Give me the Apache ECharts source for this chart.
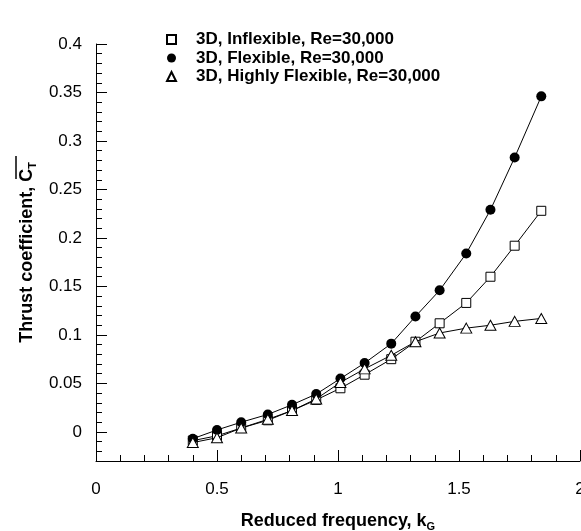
<!DOCTYPE html>
<html>
<head>
<meta charset="utf-8">
<script src="https://cdn.jsdelivr.net/npm/echarts@6/dist/echarts.min.js"></script>
<style>
  html, body { margin: 0; padding: 0; background: #fff; }
  #chart { width: 581px; height: 531px; }
</style>
</head>
<body>
<div id="chart"></div>
<script>
// reduced frequency k_G (same for the three cases)
var kG = [0.40, 0.50, 0.60, 0.71, 0.81, 0.91, 1.01, 1.11, 1.22, 1.32, 1.42, 1.53, 1.63, 1.73, 1.84];

// thrust coefficient
var ctInflexible = [-0.009, -0.004, 0.004, 0.012, 0.022, 0.033, 0.045, 0.059, 0.075, 0.093, 0.112, 0.133, 0.160, 0.192, 0.228];
var ctFlexible = [-0.007, 0.002, 0.010, 0.018, 0.028, 0.039, 0.055, 0.071, 0.091, 0.119, 0.146, 0.184, 0.229, 0.283, 0.346];
var ctHighlyFlexible = [-0.011, -0.006, 0.004, 0.013, 0.022, 0.034, 0.051, 0.065, 0.079, 0.093, 0.102, 0.107, 0.110, 0.114, 0.117];

var seriesNames = ['3D, Inflexible, Re=30,000', '3D, Flexible, Re=30,000', '3D, Highly Flexible, Re=30,000'];

var yMajorTicks = [0, 0.05, 0.1, 0.15, 0.2, 0.25, 0.3, 0.35, 0.4];
var yMin = -0.03, yMax = 0.4;
var yMinorTicks = [];
for (var t = -3; t <= 40; t++) {
    yMinorTicks.push(t / 100);
}

var FONT = 'Liberation Sans, Arial, Helvetica, sans-serif';

function pairs(ys) {
    return kG.map(function (x, i) { return [x, ys[i]]; });
}

var chart = echarts.init(document.getElementById('chart'), null, { renderer: 'canvas' });

var lineCommon = {
    type: 'line',
    showSymbol: true,
    lineStyle: { color: '#000', width: 1 },
    emphasis: { disabled: true },
    animation: false
};

var option = {
    backgroundColor: '#fff',
    animation: false,
    grid: { left: 96, right: 1, top: 44, bottom: 70, outerBoundsMode: 'none' },
    legend: {
        orient: 'vertical',
        left: 166,
        top: 31,
        padding: 0,
        itemWidth: 9,
        itemHeight: 9,
        itemGap: 1.5,
        selectedMode: false,
        textStyle: {
            fontFamily: FONT, fontSize: 17, fontWeight: 'bold', color: '#000',
            padding: [0, 0, 0, 15]
        },
        data: [
            { name: seriesNames[0], icon: 'rect' },
            { name: seriesNames[1], icon: 'circle' },
            { name: seriesNames[2], icon: 'triangle' }
        ]
    },
    xAxis: {
        type: 'value',
        min: 0,
        max: 2,
        interval: 0.5,
        name: '{t|Reduced frequency, k}{s|G}',
        nameLocation: 'middle',
        nameGap: 50,
        nameTextStyle: {
            rich: {
                t: { fontFamily: FONT, fontSize: 18, fontWeight: 'bold', color: '#000' },
                s: { fontFamily: FONT, fontSize: 11, fontWeight: 'bold', color: '#000', padding: [10, 0, 0, 0] }
            }
        },
        axisLine: { show: true, onZero: false, lineStyle: { color: '#000', width: 1 } },
        axisTick: { show: true, inside: true, length: 11, lineStyle: { color: '#000' } },
        minorTick: { show: true, splitNumber: 5, length: 6, lineStyle: { color: '#000' } },
        splitLine: { show: false },
        axisLabel: {
            margin: 20,
            fontFamily: FONT,
            fontSize: 17,
            color: '#000',
            formatter: function (v) { return String(v); }
        }
    },
    yAxis: [{
        type: 'value',
        min: yMin,
        max: yMax,
        position: 'left',
        name: '{t|Thrust coefficient, }{c|C}{s|T}',
        nameLocation: 'middle',
        nameGap: 58,
        nameTextStyle: {
            rich: {
                t: { fontFamily: FONT, fontSize: 18, fontWeight: 'bold', color: '#000' },
                c: { fontFamily: FONT, fontSize: 18, fontWeight: 'bold', color: '#000' },
                s: { fontFamily: FONT, fontSize: 11, fontWeight: 'bold', color: '#000', padding: [10, 0, 0, 0] }
            }
        },
        axisLine: { show: true, onZero: false, lineStyle: { color: '#000', width: 1 } },
        axisTick: { show: true, inside: true, length: 11, customValues: yMajorTicks, lineStyle: { color: '#000' } },
        splitLine: { show: false },
        axisLabel: {
            margin: 14,
            fontFamily: FONT,
            fontSize: 17,
            color: '#000',
            customValues: yMajorTicks,
            formatter: function (v) { return String(+v.toFixed(2)); }
        }
    }, {
        type: 'value',
        min: yMin,
        max: yMax,
        position: 'left',
        offset: 0,
        axisLine: { show: false },
        axisTick: { show: true, inside: true, length: 6, customValues: yMinorTicks, lineStyle: { color: '#000' } },
        axisLabel: { show: false },
        splitLine: { show: false }
    }],
    graphic: [{
        // overline of the mean thrust coefficient symbol
        type: 'line',
        shape: { x1: 16, y1: 156, x2: 16, y2: 179 },
        style: { stroke: '#000', lineWidth: 1.5 }
    }],
    series: [
        Object.assign({}, lineCommon, {
            name: seriesNames[0],
            symbol: 'rect',
            symbolSize: 9,
            itemStyle: { color: '#fff', borderColor: '#000', borderWidth: 1 },
            data: pairs(ctInflexible),
            z: 2
        }),
        Object.assign({}, lineCommon, {
            name: seriesNames[1],
            symbol: 'circle',
            symbolSize: 10,
            itemStyle: { color: '#000', borderColor: '#000', borderWidth: 0 },
            data: pairs(ctFlexible),
            z: 3
        }),
        Object.assign({}, lineCommon, {
            name: seriesNames[2],
            symbol: 'triangle',
            symbolSize: [11, 10],
            itemStyle: { color: '#fff', borderColor: '#000', borderWidth: 1 },
            data: pairs(ctHighlyFlexible),
            z: 4
        })
    ]
};

chart.setOption(option);
</script>
</body>
</html>
